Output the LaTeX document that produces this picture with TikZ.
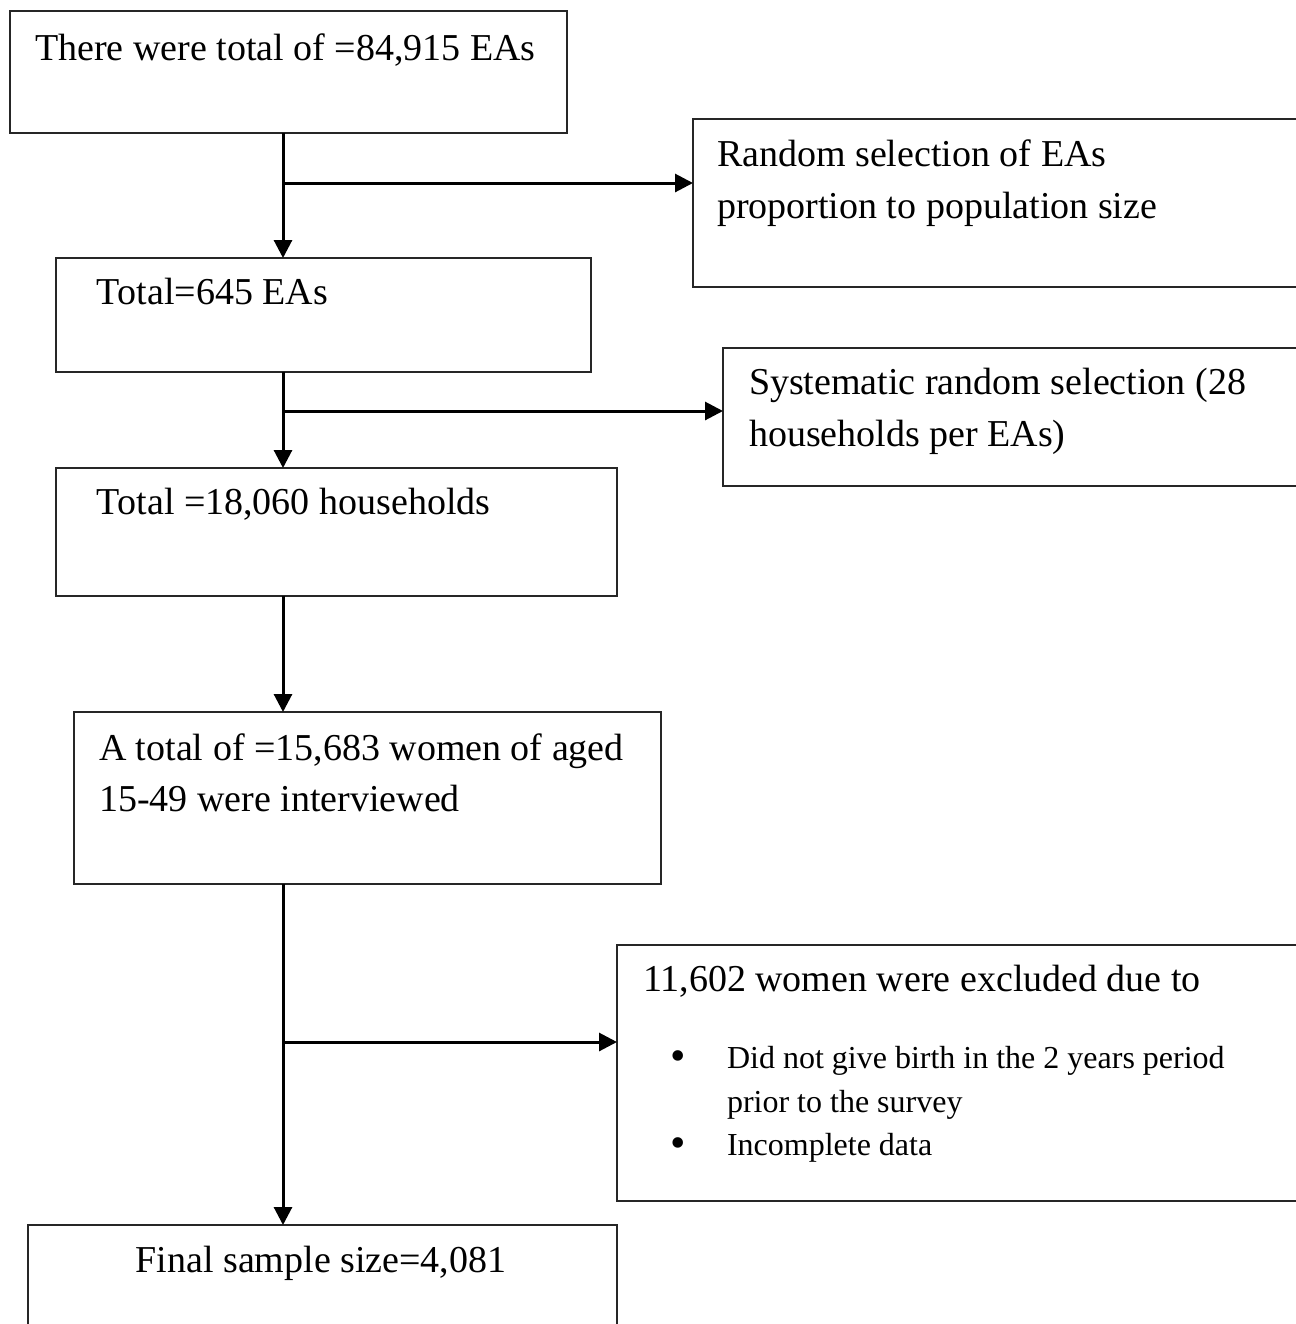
\documentclass[tikz,border=0pt]{standalone}
\usepackage{fontspec}
\setmainfont{Liberation Serif}
\usetikzlibrary{arrows.meta}
\begin{document}
\begin{tikzpicture}[x=0.5pt,y=-0.5pt,
  box/.style={draw=black!85,line width=1pt,rectangle,inner sep=0pt,outer sep=0pt,anchor=north west},
  txt/.style={anchor=base west,inner sep=0pt,outer sep=0pt,font=\fontsize{19}{26}\selectfont},
  small/.style={anchor=base west,inner sep=0pt,outer sep=0pt,font=\fontsize{16}{21.5}\selectfont},
  bul/.style={anchor=base,inner sep=0pt,outer sep=0pt,font=\fontsize{22}{22}\selectfont},
  arr/.style={line width=1.5pt,-{Triangle[length=9pt,width=9pt]}}]
\useasboundingbox (0,0) rectangle (1296,1324);
\clip (0,0) rectangle (1296,1324);
% boxes
\node[box,minimum width=278.5pt,minimum height=61pt] (A) at (10,11) {};
\node[box,minimum width=323.5pt,minimum height=84pt] (B) at (693,119) {};
\node[box,minimum width=267.5pt,minimum height=57pt] (C) at (56,258) {};
\node[box,minimum width=308.5pt,minimum height=69pt] (D) at (723,348) {};
\node[box,minimum width=280.5pt,minimum height=64pt] (E) at (56,468) {};
\node[box,minimum width=293.5pt,minimum height=86pt] (F) at (74,712) {};
\node[box,minimum width=361.5pt,minimum height=128pt] (G) at (617,945) {};
\node[box,minimum width=294.5pt,minimum height=67.5pt] (H) at (28,1225) {};
% texts
\node[txt] (tA) at (35,60) {There were total of =84,915 EAs};
\node[txt] (tB1) at (717,166) {Random selection of EAs};
\node[txt] (tB2) at (717,218) {proportion to population size};
\node[txt] (tC) at (97,304) {Total=645 EAs};
\node[txt] (tD1) at (749,394) {Systematic random selection (28};
\node[txt] (tD2) at (749,446) {households per EAs)};
\node[txt] (tE) at (97,514) {Total =18,060 households};
\node[txt] (tF1) at (99,760) {A total of =15,683 women of aged};
\node[txt] (tF2) at (99,811) {15-49 were interviewed};
\node[txt] (tG) at (643,991) {11,602 women were excluded due to};
\node[bul] (bu1) at (678,1070) {•};
\node[small] (tG1) at (727,1068) {Did not give birth in the 2 years period};
\node[small] (tG2) at (727,1112) {prior to the survey};
\node[bul] (bu2) at (678,1157) {•};
\node[small] (tG3) at (727,1155) {Incomplete data};
\node[txt,anchor=base] (tH) at (321,1272) {Final sample size=4,081};
% connectors
\coordinate (t) at (283,0);
\coordinate (j1) at (283,183);
\coordinate (j2) at (283,411);
\coordinate (j3) at (283,1042);
\draw[arr] (A.south -| t) -- (C.north -| t);
\draw[arr] (j1) -- (j1 -| B.west);
\draw[arr] (C.south -| t) -- (E.north -| t);
\draw[arr] (j2) -- (j2 -| D.west);
\draw[arr] (E.south -| t) -- (F.north -| t);
\draw[arr] (F.south -| t) -- (H.north -| t);
\draw[arr] (j3) -- (j3 -| G.west);
\end{tikzpicture}
\end{document}
